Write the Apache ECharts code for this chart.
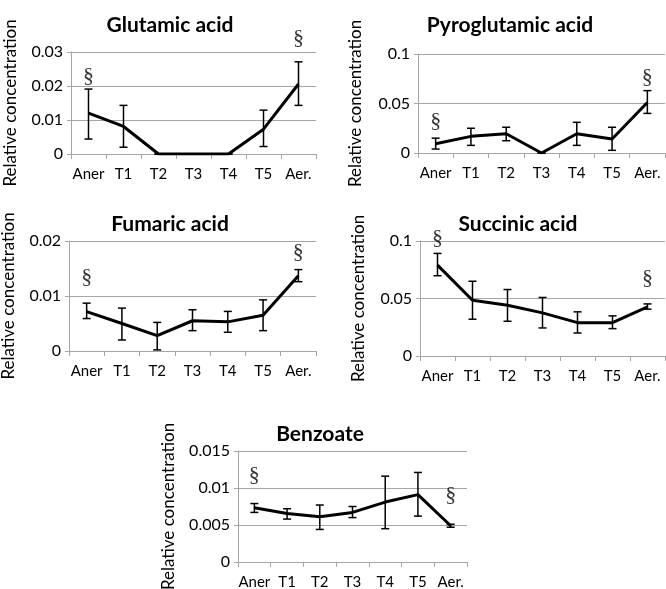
<!DOCTYPE html>
<html><head><meta charset="utf-8">
<script src="https://cdn.jsdelivr.net/npm/echarts@6/dist/echarts.min.js"></script>
<style>html,body{margin:0;padding:0;background:#fff}#c{width:666px;height:589px}</style>
</head><body><div id="c"></div>
<script>
const categories = ['Aner','T1','T2','T3','T4','T5','Aer.'];

const titles = ['Glutamic acid','Pyroglutamic acid','Fumaric acid','Succinic acid','Benzoate'];

const glutamicMean = [0.0120, 0.0081, 0, 0, 0, 0.0073, 0.0206];
const glutamicLow  = [0.0044, 0.0020, 0, 0, 0, 0.0022, 0.0143];
const glutamicHigh = [0.0191, 0.0143, 0, 0, 0, 0.0129, 0.0271];

const pyroMean = [0.0094, 0.0168, 0.0195, 0, 0.0195, 0.0141, 0.0510];
const pyroLow  = [0.0040, 0.0077, 0.0124, 0, 0.0077, 0.0027, 0.0400];
const pyroHigh = [0.0150, 0.0250, 0.0260, 0, 0.0310, 0.0260, 0.0630];

const fumaricMean = [0.00715, 0.0050, 0.0028, 0.0055, 0.0053, 0.0065, 0.0137];
const fumaricLow  = [0.0059, 0.0020, 0.0002, 0.0037, 0.0034, 0.0037, 0.0126];
const fumaricHigh = [0.0087, 0.0078, 0.0052, 0.0075, 0.0072, 0.0093, 0.0148];

const succinicMean = [0.0790, 0.0485, 0.0442, 0.0375, 0.0290, 0.0290, 0.0427];
const succinicLow  = [0.0698, 0.0320, 0.0302, 0.0244, 0.0200, 0.0238, 0.0407];
const succinicHigh = [0.0892, 0.0650, 0.0578, 0.0509, 0.0384, 0.0349, 0.0453];

const benzoateMean = [0.00732, 0.00655, 0.0061, 0.0067, 0.0081, 0.0091, 0.0049];
const benzoateLow  = [0.0067, 0.0058, 0.0044, 0.0060, 0.0045, 0.0062, 0.0047];
const benzoateHigh = [0.0079, 0.0072, 0.0077, 0.0075, 0.0116, 0.0121, 0.0051];

const yMax = [0.03, 0.1, 0.02, 0.1, 0.015];
const yInterval = [0.01, 0.05, 0.01, 0.05, 0.005];

// positions of significance marks (§): [category index, value]
const glutamicSig = [[0, 0.0229], [6, 0.0341]];
const pyroSig = [[0, 0.0316], [6, 0.077]];
const fumaricSig = [[0, 0.01345], [6, 0.0180]];
const succinicSig = [[0, 0.1026], [6, 0.0678]];
const benzoateSig = [[0, 0.01176], [6, 0.00905]];

const panels = [
  {mean: glutamicMean, low: glutamicLow, high: glutamicHigh, sig: glutamicSig},
  {mean: pyroMean, low: pyroLow, high: pyroHigh, sig: pyroSig},
  {mean: fumaricMean, low: fumaricLow, high: fumaricHigh, sig: fumaricSig},
  {mean: succinicMean, low: succinicLow, high: succinicHigh, sig: succinicSig},
  {mean: benzoateMean, low: benzoateLow, high: benzoateHigh, sig: benzoateSig}
];

const layout = [
  {left: 71, top: 52, width: 245, height: 102, tx: 165, ty: 10, gap: 52},
  {left: 418, top: 54, width: 247, height: 99, tx: 505, ty: 10, gap: 54},
  {left: 69, top: 241, width: 247, height: 110, tx: 165, ty: 209, gap: 52},
  {left: 420, top: 241, width: 245, height: 115, tx: 513, ty: 209, gap: 53},
  {left: 238, top: 451, width: 229, height: 111, tx: 315, ty: 419, gap: 61}
];

const font = 'Lato, "Open Sans", sans-serif';
const gridColor = '#A6A6A6';

const option = {
  animation: false,
  backgroundColor: '#fff',
  title: layout.map((l, i) => ({
    text: titles[i], left: l.tx, top: l.ty, textAlign: 'center',
    textStyle: {fontFamily: font, fontWeight: 'bold', fontSize: 21, color: '#000'}
  })),
  grid: layout.map(l => ({left: l.left, top: l.top, width: l.width, height: l.height,
    containLabel: false, outerBoundsMode: 'none'})),
  xAxis: layout.map((l, i) => ({
    type: 'category', gridIndex: i, data: categories, boundaryGap: true,
    axisLine: {lineStyle: {color: gridColor, width: 1}},
    axisTick: {show: true, length: 5, lineStyle: {color: gridColor}},
    axisLabel: {color: '#000', fontFamily: font, fontSize: 15, margin: 13, interval: 0}
  })),
  yAxis: layout.map((l, i) => ({
    type: 'value', gridIndex: i, min: 0, max: yMax[i], interval: yInterval[i],
    name: 'Relative concentration', nameLocation: 'middle', nameGap: l.gap,
    nameTextStyle: {color: '#000', fontFamily: font, fontSize: 17},
    axisLine: {show: true, lineStyle: {color: gridColor, width: 1}},
    axisTick: {show: true, length: 4, lineStyle: {color: gridColor}},
    splitLine: {lineStyle: {color: gridColor, width: 1}},
    axisLabel: {color: '#000', fontFamily: font, fontSize: 16, margin: 8}
  })),
  series: []
};

panels.forEach((p, i) => {
  option.series.push({
    type: 'line', xAxisIndex: i, yAxisIndex: i, data: p.mean,
    symbol: 'none', lineStyle: {color: '#000', width: 3}, z: 3
  });
  option.series.push({
    type: 'custom', xAxisIndex: i, yAxisIndex: i,
    data: p.mean.map((m, k) => [k, p.low[k], p.high[k]]),
    renderItem: function (params, api) {
      const lo = api.coord([api.value(0), api.value(1)]);
      const hi = api.coord([api.value(0), api.value(2)]);
      const w = 4;
      const st = {stroke: '#000', lineWidth: 1.5};
      return {type: 'group', children: [
        {type: 'line', shape: {x1: lo[0], y1: lo[1], x2: hi[0], y2: hi[1]}, style: st},
        {type: 'line', shape: {x1: lo[0] - w, y1: lo[1], x2: lo[0] + w, y2: lo[1]}, style: st},
        {type: 'line', shape: {x1: hi[0] - w, y1: hi[1], x2: hi[0] + w, y2: hi[1]}, style: st}
      ]};
    },
    z: 4
  });
  option.series.push({
    type: 'scatter', xAxisIndex: i, yAxisIndex: i, data: p.sig,
    symbolSize: 1, itemStyle: {color: 'rgba(0,0,0,0)'}, clip: false,
    label: {show: true, position: 'inside', formatter: '§', color: '#000',
      fontFamily: '"Liberation Serif", "DejaVu Serif", serif', fontSize: 22},
    z: 5
  });
});

echarts.init(document.getElementById('c')).setOption(option);
</script>
</body></html>
